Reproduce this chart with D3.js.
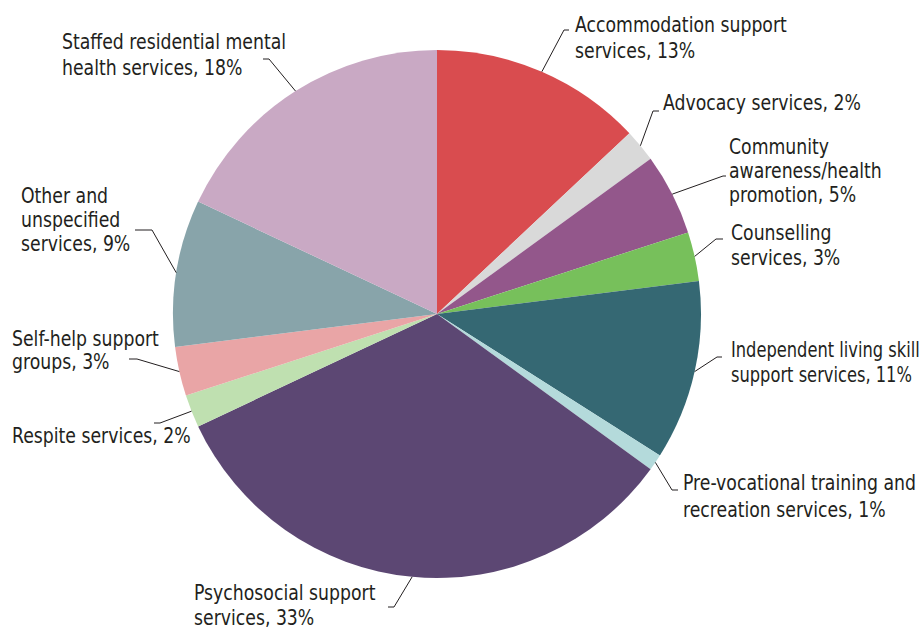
<!DOCTYPE html>
<html>
<head>
<meta charset="utf-8">
<script src="https://cdn.jsdelivr.net/npm/d3@7"></script>
<style>
  html, body { margin: 0; padding: 0; background: #ffffff; }
  svg { display: block; }
  .lbl { font-family: "DejaVu Sans Condensed", "Liberation Sans Narrow", sans-serif; font-stretch: condensed; font-size: 22px; fill: #231f20; }
</style>
</head>
<body>
<svg id="chart" width="924" height="630"></svg>
<script>
// Service categories, clockwise from 12 o'clock
const categories = [
  "Accommodation support services",
  "Advocacy services",
  "Community awareness/health promotion",
  "Counselling services",
  "Independent living skill support services",
  "Pre-vocational training and recreation services",
  "Psychosocial support services",
  "Respite services",
  "Self-help support groups",
  "Other and unspecified services",
  "Staffed residential mental health services"
];

// Share of expenditure (%)
const shares = [13, 2, 5, 3, 11, 1, 33, 2, 3, 9, 18];

// Label text, one entry per line
const labelLines = [
  ["Accommodation support", "services, 13%"],
  ["Advocacy services, 2%"],
  ["Community", "awareness/health", "promotion, 5%"],
  ["Counselling", "services, 3%"],
  ["Independent living skill", "support services, 11%"],
  ["Pre-vocational training and", "recreation services, 1%"],
  ["Psychosocial support", "services, 33%"],
  ["Respite services, 2%"],
  ["Self-help support", "groups, 3%"],
  ["Other and", "unspecified", "services, 9%"],
  ["Staffed residential mental", "health services, 18%"]
];

const colors = [
  "#d94c4f", "#d9d9d9", "#93578b", "#77c05b", "#356873", "#b4dadb",
  "#5c4773", "#bfe0b0", "#e9a5a6", "#88a4aa", "#c9a9c4"
];

// Label placement: leader elbow, end of the short horizontal tick,
// text x, first baseline and line step
const labelLayout = [
  { ex: 564, ey: 30,  hx: 569, tx: 575, ty: 32,  dy: 26 },
  { ex: 653, ey: 111, hx: 659, tx: 663, ty: 110, dy: 26 },
  { ex: 723, ey: 176, hx: 726, tx: 729, ty: 154, dy: 24 },
  { ex: 716, ey: 239, hx: 723, tx: 731, ty: 240, dy: 25 },
  { ex: 717, ey: 357, hx: 722, tx: 731, ty: 357, dy: 25 },
  { ex: 672, ey: 490, hx: 678, tx: 683, ty: 490, dy: 27 },
  { ex: 394, ey: 607, hx: 388, tx: 194, ty: 600, dy: 25 },
  { ex: 160, ey: 423, hx: 154, tx: 12,  ty: 443, dy: 25 },
  { ex: 137, ey: 359, hx: 129, tx: 12,  ty: 346, dy: 23 },
  { ex: 152, ey: 230, hx: 135, tx: 21,  ty: 203, dy: 24 },
  { ex: 269, ey: 59,  hx: 263, tx: 62,  ty: 49,  dy: 26 }
];

const width = 924, cx = 437, cy = 314, radius = 264;

const data = categories.map((c, i) => ({ name: c, value: shares[i], i }));

const pie = d3.pie().value(d => d.value).sort(null).startAngle(0).endAngle(2 * Math.PI);
const arcs = pie(data);
const arc = d3.arc().innerRadius(0).outerRadius(radius);

const svg = d3.select("#chart");
const g = svg.append("g").attr("transform", `translate(${cx},${cy})`);

g.selectAll("path.slice")
  .data(arcs)
  .join("path")
  .attr("class", "slice")
  .attr("d", arc)
  .attr("fill", d => colors[d.data.i]);

// Leader lines: from the slice's outer edge at its mid-angle to the elbow, then a short tick
const leaders = svg.append("g").attr("fill", "none").attr("stroke", "#231f20").attr("stroke-width", 1);
arcs.forEach(a => {
  const m = (a.startAngle + a.endAngle) / 2;
  const sx = cx + radius * Math.sin(m);
  const sy = cy - radius * Math.cos(m);
  const L = labelLayout[a.data.i];
  leaders.append("polyline")
    .attr("points", `${sx},${sy} ${L.ex},${L.ey} ${L.hx},${L.ey}`);
});

// Labels, set in a narrow face: squeeze horizontally so that
// "Accommodation support" runs about 212px wide, and keep each label inside the frame
const probe = svg.append("text").attr("class", "lbl").text("Accommodation support");
const squeeze = Math.min(1, 212 / probe.node().getComputedTextLength());
probe.remove();

const labels = svg.append("g");
arcs.forEach(a => {
  const L = labelLayout[a.data.i];
  const t = labels.append("text").attr("class", "lbl");
  labelLines[a.data.i].forEach((line, k) => {
    t.append("tspan").attr("x", 0).attr("y", L.ty + k * L.dy).text(line);
  });
  const w = t.node().getBBox().width;
  const s = Math.min(squeeze, (width - 4 - L.tx) / w);
  t.attr("transform", `translate(${L.tx},0) scale(${s},1)`);
});
</script>
</body>
</html>
